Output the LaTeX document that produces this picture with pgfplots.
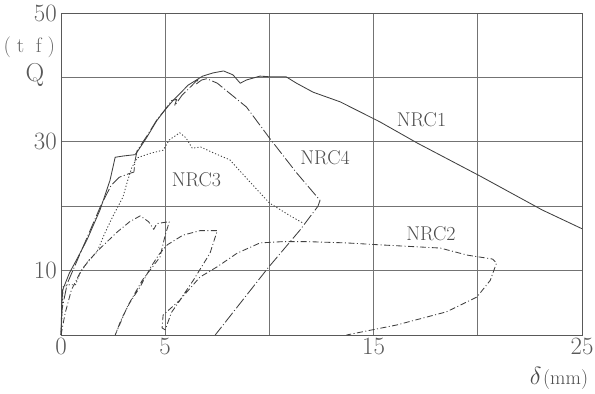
\documentclass[border=0pt]{standalone}
\usepackage{pgfplots}
\pgfplotsset{compat=1.18}
\begin{document}
\begin{tikzpicture}
\begin{axis}[
  scale only axis, width=521bp, height=322bp,
  xmin=0,xmax=25,ymin=0,ymax=50,
  xtick={0,5,...,25}, xticklabels={0,5,,15,,25},
  ytick={0,10,...,50}, yticklabels={,10,,30,,50},
  grid=major, major grid style={black!55, line width=0.7pt},
  axis line style={black!65, line width=0.9pt},
  major tick length=0pt,
  tick label style={font=\fontsize{25}{28}\selectfont, text=black!65},
  xticklabel style={inner sep=1pt, yshift=-2pt},
  yticklabel style={inner sep=1pt, xshift=-3pt},
  clip=false,
  every axis plot/.append style={black!75, line width=0.85pt, line join=round, no marks},
]
% NRC1 (solid)
\addplot[solid] coordinates {
(0,0) (0.03,4) (0.08,7) (0.4,9.6) (0.8,12) (1.25,14.8) (1.87,19.4) (2.35,24) (2.6,27.6)
(3.0,27.8) (3.55,28.0) (3.65,28.4) (4.1,30.6) (4.6,33.3) (5.0,35) (5.4,36.5) (5.8,37.8)
(6.1,38.8) (6.5,39.6) (6.8,40.2) (7.3,40.7) (7.8,41) (8.25,40.4) (8.6,39.1) (8.9,39.6)
(9.55,40.2) (10.0,40.1) (10.8,40.1) (11.3,39.1) (12.1,37.7) (13.4,36.2) (15.3,33.1)
(17.1,29.8) (20.1,24.7) (23.1,19.4) (25,16.5)};
% NRC4 (long dash-dot)
\addplot[dash pattern=on 12pt off 2.5pt on 1pt off 2.5pt] coordinates {
(0,0) (0.05,4) (0.3,8) (0.7,11) (1.3,15.5) (1.9,20) (2.4,23.2) (2.8,24.5) (3.3,25.1)
(3.5,25.3) (3.55,27) (3.65,28.6) (4.1,30.8) (4.6,33.4) (5.0,35) (5.3,36.4) (5.55,36.6)
(5.45,35.6) (5.8,37.2) (6.3,38.8) (6.6,39.8) (6.5,39.0) (6.75,39.6) (7.0,39.8) (7.5,39.1)
(8.9,35.4) (10,30.6) (11.3,25.2) (12.43,20.9) (12.33,20.0) (11.47,16.3) (9.93,10.4) (7.4,0)};
% NRC3 (dotted)
\addplot[dash pattern=on 1.2pt off 2pt] coordinates {
(0,0) (0.05,3) (0.1,7.5) (0.4,7.8) (0.7,7.8) (0.9,9.5) (1.3,11.5) (1.73,12.9) (2.1,15.8)
(2.5,18.5) (2.97,21.4) (3.2,24) (3.4,26) (3.65,27.5) (4.27,28.2) (4.9,28.7) (5.2,30.3)
(5.7,31.4) (6.0,30.6) (6.3,29.0) (6.7,29.2) (7.3,28.3) (8.1,27.2) (9,24) (10,20.5)
(11.0,18.5) (11.6,17.4)};
% NRC2 (dash-dot)
\addplot[dash pattern=on 6pt off 2.5pt on 1pt off 2.5pt] coordinates {
(0,0) (0.2,3.4) (0.5,7) (1.0,10.2) (1.7,12.9) (2.7,16) (3.3,17.6) (3.8,18.5) (4.2,17.6)
(4.45,16.4) (4.6,17.3) (5.2,17.6) (5.0,15.5) (4.75,12.1) (3.9,8.5) (3.2,4.5) (2.6,0)
(2.9,2.5) (3.3,5) (3.8,7.5) (4.3,10.5) (4.7,12.5) (5.1,14) (5.85,15.5) (6.67,16.2)
(7.5,16.2) (7.15,12.7) (6.35,8.5) (5.7,5.4) (4.9,3.1) (4.85,1.1) (5.0,0.8) (5.3,3.5)
(5.8,5.8) (6.67,9) (7.5,10.6) (8.45,12.7) (9.55,14.3) (10.65,14.5) (11.8,14.5) (13.7,14.3)
(15.3,14) (18.2,13.5) (19.5,12.4) (20.1,12.1) (20.7,11.8) (20.9,11.2) (20.6,8.5)
(19.96,5.9) (18.5,3.6) (16.1,1.55) (13.7,0)};
\node[font=\fontsize{20}{24}\selectfont, text=black!70] at (axis cs:17.3,33.4) {NRC1};
\node[font=\fontsize{20}{24}\selectfont, text=black!70] at (axis cs:17.75,15.7) {NRC2};
\node[font=\fontsize{20}{24}\selectfont, text=black!70] at (axis cs:6.5,24.1) {NRC3};
\node[font=\fontsize{20}{24}\selectfont, text=black!70] at (axis cs:12.67,27.5) {NRC4};
\node[font=\fontsize{21}{24}\selectfont, text=black!60] at (axis cs:-1.52,44.7) {(\;t\;\;f\;)};
\node[font=\fontsize{26}{28}\selectfont, text=black!65] at (axis cs:-1.25,40.3) {Q};
\node[anchor=east, inner sep=0pt, text=black!70] at (axis cs:25.3,-6.7)
  {{\fontsize{26}{28}\selectfont$\delta$}\,{\fontsize{20}{22}\selectfont(mm)}};
\coordinate (bbsw) at (axis cs:-2.927,-9.16);
\coordinate (bbne) at (axis cs:25.624,52.02);
\end{axis}
\pgfresetboundingbox
\path[use as bounding box] (bbsw) rectangle (bbne);
\end{tikzpicture}
\end{document}
